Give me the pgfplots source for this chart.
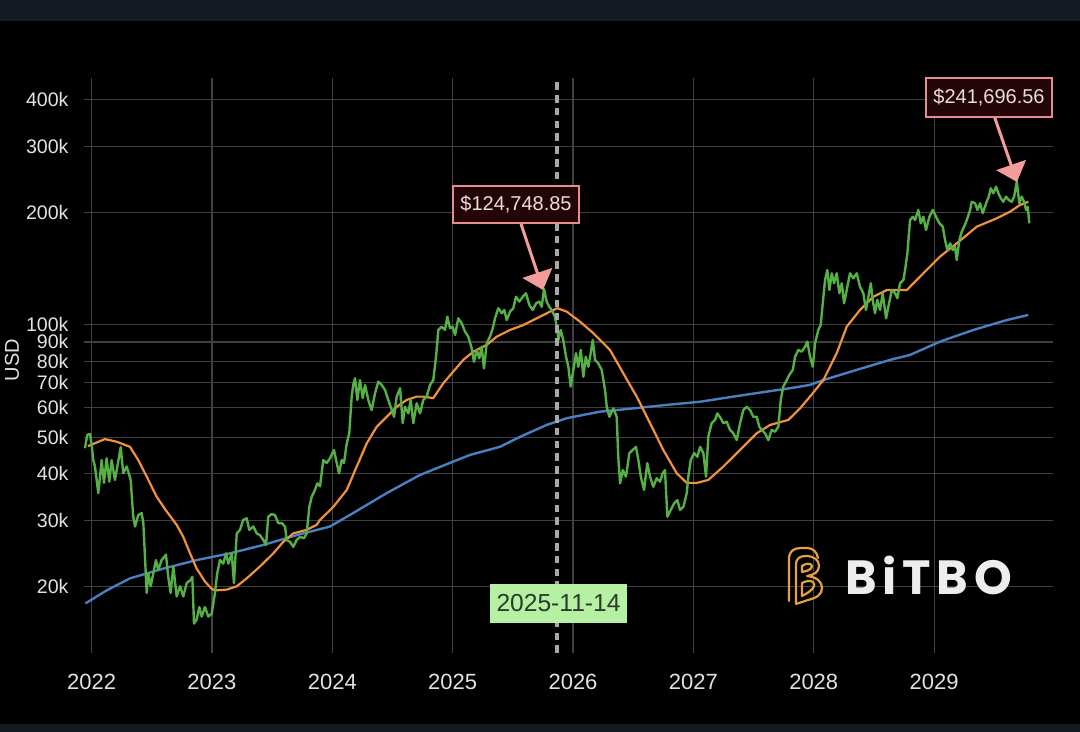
\documentclass[border=0pt]{standalone}
\usepackage{pgfplots}
\pgfplotsset{compat=1.18}
\usepackage{fontspec}
\setmainfont{Liberation Sans}
\newfontfamily\logofont[LetterSpace=12]{Poppins}
\usetikzlibrary{arrows.meta}
\definecolor{bgtop}{HTML}{141A22}
\definecolor{gridgray}{HTML}{404040}
\definecolor{labelgray}{HTML}{E2E2E2}
\definecolor{btcgreen}{HTML}{56B045}
\definecolor{maorange}{HTML}{F0923C}
\definecolor{plblue}{HTML}{4A7FC0}
\definecolor{dashgray}{HTML}{A8A8A8}
\definecolor{boxfill}{HTML}{230507}
\definecolor{boxline}{HTML}{E58C8E}
\definecolor{arrowpink}{HTML}{F29C9C}
\definecolor{boxtext}{HTML}{ECDCDC}
\definecolor{datefill}{HTML}{B5F0A3}
\definecolor{datetext}{HTML}{2B3A2A}
\definecolor{logoorange}{HTML}{E3A23E}
\definecolor{logowhite}{HTML}{EDEDED}

\pgfplotstableread{
t v
2021.945 46800
2021.964 50800
2021.987 51100
2022.001 47700
2022.014 43500
2022.028 41800
2022.056 35500
2022.084 43500
2022.103 37800
2022.125 44000
2022.147 38100
2022.167 43500
2022.194 38500
2022.214 41800
2022.242 47100
2022.263 40100
2022.292 41800
2022.325 38500
2022.346 30700
2022.361 28900
2022.388 31000
2022.416 31400
2022.430 29500
2022.458 19200
2022.471 21700
2022.491 20000
2022.513 21700
2022.535 23500
2022.554 22100
2022.582 23500
2022.618 24300
2022.637 21200
2022.657 19200
2022.679 22600
2022.707 18800
2022.735 20000
2022.762 18800
2022.790 20400
2022.823 20800
2022.837 21200
2022.851 15900
2022.873 16300
2022.895 17600
2022.915 16600
2022.942 17600
2022.970 16600
2022.998 16900
2023.025 19200
2023.044 21700
2023.067 23500
2023.094 23000
2023.117 24500
2023.136 23000
2023.164 24500
2023.183 20400
2023.206 27700
2023.233 28300
2023.260 30100
2023.289 30400
2023.310 28300
2023.344 28900
2023.372 27700
2023.399 27400
2023.427 26600
2023.449 25800
2023.468 30700
2023.496 31200
2023.524 31000
2023.551 29500
2023.580 29500
2023.607 28900
2023.621 26600
2023.649 26300
2023.676 25500
2023.704 26600
2023.732 27100
2023.765 26900
2023.787 27700
2023.809 32600
2023.829 34700
2023.856 36200
2023.875 37700
2023.898 37000
2023.925 43500
2023.953 42700
2023.981 44000
2024.014 46300
2024.037 42700
2024.056 40100
2024.078 43500
2024.097 42700
2024.120 48200
2024.141 51300
2024.161 64300
2024.174 69100
2024.189 72000
2024.208 63000
2024.230 71200
2024.253 63700
2024.272 69100
2024.299 63000
2024.327 59200
2024.355 65600
2024.382 70500
2024.410 69100
2024.438 67000
2024.465 63000
2024.494 59200
2024.513 56800
2024.535 64300
2024.563 67700
2024.585 54600
2024.604 60400
2024.632 58000
2024.651 63000
2024.673 54600
2024.701 61700
2024.729 58000
2024.756 63000
2024.784 64300
2024.812 69100
2024.839 71200
2024.862 82200
2024.881 96900
2024.909 98900
2024.936 96900
2024.956 105200
2024.978 97900
2025.000 98900
2025.020 94000
2025.047 104100
2025.075 101000
2025.103 95900
2025.130 93000
2025.158 86600
2025.177 79700
2025.200 85700
2025.221 81400
2025.241 87400
2025.260 76500
2025.283 89300
2025.310 93000
2025.333 97900
2025.352 104100
2025.379 110800
2025.408 107400
2025.429 109600
2025.449 103000
2025.477 108500
2025.504 110800
2025.526 118900
2025.554 115400
2025.582 118900
2025.609 121500
2025.637 113000
2025.665 109600
2025.693 114200
2025.720 115400
2025.740 111800
2025.759 124748.85
2025.781 115400
2025.803 111800
2025.823 109600
2025.850 105200
2025.870 96900
2025.878 91100
2025.898 96900
2025.919 91100
2025.942 82200
2025.961 77300
2025.981 68400
2026.003 75800
2026.025 84000
2026.044 77300
2026.064 85700
2026.086 72700
2026.106 82200
2026.127 77300
2026.147 84000
2026.164 91100
2026.183 80600
2026.210 78900
2026.238 75800
2026.266 67000
2026.280 60400
2026.302 56800
2026.335 59800
2026.363 56800
2026.376 44400
2026.391 37700
2026.413 40900
2026.440 39300
2026.468 45400
2026.496 46300
2026.523 47200
2026.543 43500
2026.563 39300
2026.590 36200
2026.617 42700
2026.640 39300
2026.667 36900
2026.695 38900
2026.723 38100
2026.745 40100
2026.764 40900
2026.784 30700
2026.812 32000
2026.839 33300
2026.867 34000
2026.889 32000
2026.917 32600
2026.945 35500
2026.958 39300
2026.978 43500
2027.006 45400
2027.033 44400
2027.056 47200
2027.083 45400
2027.105 39300
2027.124 50200
2027.152 54600
2027.180 55700
2027.199 58000
2027.227 56300
2027.249 54600
2027.277 55100
2027.304 52400
2027.332 51300
2027.360 49200
2027.388 54600
2027.415 59200
2027.443 60400
2027.471 59200
2027.498 56800
2027.526 56800
2027.548 53400
2027.568 52400
2027.595 51300
2027.623 49200
2027.651 52400
2027.678 51800
2027.706 53400
2027.726 63000
2027.747 68400
2027.776 71200
2027.797 73500
2027.826 75800
2027.845 82200
2027.872 85700
2027.900 84800
2027.928 87400
2027.947 90200
2027.969 82200
2027.992 77300
2028.011 89300
2028.038 96900
2028.058 99900
2028.075 114200
2028.094 131800
2028.113 140200
2028.130 123900
2028.150 137400
2028.169 129200
2028.191 137400
2028.213 121500
2028.233 129200
2028.252 114200
2028.274 123900
2028.301 137400
2028.329 133200
2028.357 137400
2028.384 126500
2028.412 121500
2028.434 109600
2028.454 118900
2028.474 129200
2028.490 116600
2028.509 107400
2028.528 116600
2028.551 109600
2028.573 121500
2028.601 104100
2028.620 111800
2028.648 123900
2028.676 121500
2028.695 117800
2028.717 129200
2028.745 131800
2028.759 140200
2028.778 155400
2028.800 190700
2028.823 194600
2028.842 190700
2028.869 202800
2028.889 186900
2028.911 194600
2028.933 179400
2028.961 194600
2028.989 202800
2029.016 194600
2029.044 186900
2029.072 183000
2029.091 168700
2029.110 158600
2029.133 165200
2029.155 158600
2029.174 161800
2029.188 149100
2029.210 168700
2029.230 177500
2029.249 183000
2029.272 190700
2029.299 202800
2029.313 213400
2029.341 211400
2029.360 202800
2029.382 211400
2029.404 198800
2029.432 211400
2029.454 220200
2029.471 231800
2029.492 224800
2029.515 234200
2029.534 224800
2029.554 218000
2029.575 213400
2029.598 220200
2029.620 215800
2029.645 213400
2029.665 220200
2029.687 241696.56
2029.708 211400
2029.728 220200
2029.747 213400
2029.764 202800
2029.778 207000
2029.791 186900
}\pricetable

\pgfplotstableread{
t v
2021.970 47400
2022.111 49500
2022.209 48700
2022.319 47200
2022.388 43500
2022.458 39300
2022.541 34700
2022.624 31700
2022.707 29200
2022.762 27100
2022.818 24500
2022.873 22300
2022.942 20600
2022.998 19700
2023.025 19500
2023.123 19600
2023.206 20000
2023.289 21000
2023.399 22600
2023.510 24500
2023.593 26300
2023.676 27700
2023.787 28300
2023.870 29200
2023.898 30100
2024.008 32600
2024.120 36200
2024.203 41800
2024.286 48200
2024.369 53400
2024.452 56800
2024.535 60400
2024.618 63000
2024.701 64300
2024.756 64300
2024.839 63700
2024.922 69800
2025.005 75000
2025.088 80600
2025.172 84800
2025.283 88400
2025.366 93000
2025.477 96900
2025.587 99900
2025.698 104100
2025.809 108500
2025.870 110800
2025.948 108500
2026.058 102000
2026.169 95000
2026.307 85700
2026.418 74200
2026.529 64300
2026.640 54600
2026.750 46300
2026.862 40100
2026.945 37800
2027.028 37800
2027.124 38500
2027.249 41800
2027.388 46300
2027.526 51300
2027.637 54000
2027.789 55700
2027.886 59800
2027.969 64300
2028.080 71200
2028.191 84000
2028.274 98900
2028.384 109600
2028.495 118900
2028.607 123900
2028.773 123900
2028.911 137400
2029.049 152200
2029.188 165200
2029.354 183000
2029.521 192800
2029.631 200700
2029.714 209200
2029.783 213400
}\matable

\pgfplotstableread{
t v
2021.949 18000
2022.125 19500
2022.319 21000
2022.596 22300
2022.873 23500
2023.150 24500
2023.427 25800
2023.704 27400
2023.981 28900
2024.174 31400
2024.452 35500
2024.729 39700
2025.005 43100
2025.144 44900
2025.393 47200
2025.560 50200
2025.781 54000
2025.948 56300
2026.224 58600
2026.501 59800
2026.779 61100
2027.056 62300
2027.332 64300
2027.609 66300
2027.803 67700
2027.969 69100
2028.080 71200
2028.357 75800
2028.634 80600
2028.800 83100
2029.049 90200
2029.326 96900
2029.604 103000
2029.783 106300
}\bluetable

\begin{document}
\begin{tikzpicture}
% fixed page frame
\useasboundingbox (0pt,0pt) rectangle (540pt,366pt);
\fill[black] (-2pt,-2pt) rectangle (542pt,368pt);
\fill[bgtop] (-2pt,355.6pt) rectangle (542pt,368pt);
\fill[bgtop] (-2pt,-2pt) rectangle (542pt,4pt);

\begin{axis}[
  at={(42pt,39.5pt)}, anchor=south west,
  width=484.5pt, height=287.5pt, scale only axis,
  xmin=2021.937, xmax=2029.988,
  ymode=log, ymin=13266, ymax=457240,
  axis line style={draw=none},
  major tick length=0pt,
  grid=major,
  major grid style={draw=gridgray, line width=0.6pt},
  xtick={2022,2023,2024,2025,2026,2027,2028,2029},
  xticklabels={2022,2023,2024,2025,2026,2027,2028,2029},
  ytick={20000,30000,40000,50000,60000,70000,80000,90000,100000,200000,300000,400000},
  yticklabels={20k,30k,40k,50k,60k,70k,80k,90k,100k\hspace{2.2pt},200k,300k,400k},
  x tick label style={font=\fontsize{11}{13}\selectfont, text=labelgray, yshift=-6.8pt},
  y tick label style={font=\fontsize{9.8}{12}\selectfont, text=labelgray, xshift=-4.2pt},
  clip=false,
]
\addplot[draw=plblue, line width=1.2pt] table[x=t,y=v] {\bluetable};
\addplot[draw=maorange, line width=1.1pt] table[x=t,y=v] {\matable};
\addplot[draw=btcgreen, line width=1.2pt, line join=round] table[x=t,y=v] {\pricetable};
\addplot[draw=dashgray, line width=1.7pt, dash pattern=on 3.8pt off 2.6pt] coordinates {(2025.868,13266) (2025.868,457240)};
\end{axis}

\begin{scope}[x=0.5pt, y=-0.5pt, shift={(0pt,366pt)}]
% USD label
\node[rotate=90, text=labelgray, font=\fontsize{10}{12}\selectfont] at (12,360) {USD};
% arrows
\draw[arrowpink, line width=1.5pt, -{Triangle[width=15.5pt,length=9pt]}] (521,224) -- (543,290);
\draw[arrowpink, line width=1.5pt, -{Triangle[width=15.5pt,length=9pt]}] (994.5,117) -- (1017,182);
% boxes
\node[fill=boxfill, draw=boxline, line width=1pt, minimum width=62.8pt, minimum height=18.8pt, inner sep=0pt, text=boxtext, font=\fontsize{10}{12}\selectfont] at (516,204.5) {\$124,748.85};
\node[fill=boxfill, draw=boxline, line width=1pt, minimum width=63pt, minimum height=19.3pt, inner sep=0pt, text=boxtext, font=\fontsize{10}{12}\selectfont] at (989,97.3) {\$241,696.56};
% date label
\node[fill=datefill, minimum width=68.5pt, minimum height=19.5pt, inner sep=0pt, text=datetext, font=\fontsize{12.3}{14}\selectfont] at (558.5,603.5) {2025-11-14};
% logo icon
\begin{scope}[draw=logoorange, line width=1.1pt, line cap=round, line join=round]
\draw (789,601) -- (789,559) .. controls (789,551) and (794,548) .. (801,548) -- (807,548) .. controls (813,548) and (817,552) .. (818,558);
\draw (796,604) -- (796,565) .. controls (796,558) and (800,556) .. (806,556) .. controls (814,556) and (819,560) .. (819,566) .. controls (819,572) and (814,575) .. (807,576) .. controls (816,577) and (822,581) .. (822,588) .. controls (822,595) and (816,598) .. (808,600) -- (796,604);
\draw (802,596) -- (802,583) .. controls (806,581) and (810,580) .. (813,582) .. controls (816,585) and (814,590) .. (802,596);
\draw (802,572) -- (802,566) .. controls (806,563) and (811,563) .. (812,566) .. controls (812,569) and (808,571) .. (802,572);
\end{scope}
\node[anchor=west, inner sep=0pt, text=logowhite, font=\logofont\bfseries\fontsize{24}{26}\selectfont] at (845,575) {BiTBO};
\end{scope}
\end{tikzpicture}
\end{document}
